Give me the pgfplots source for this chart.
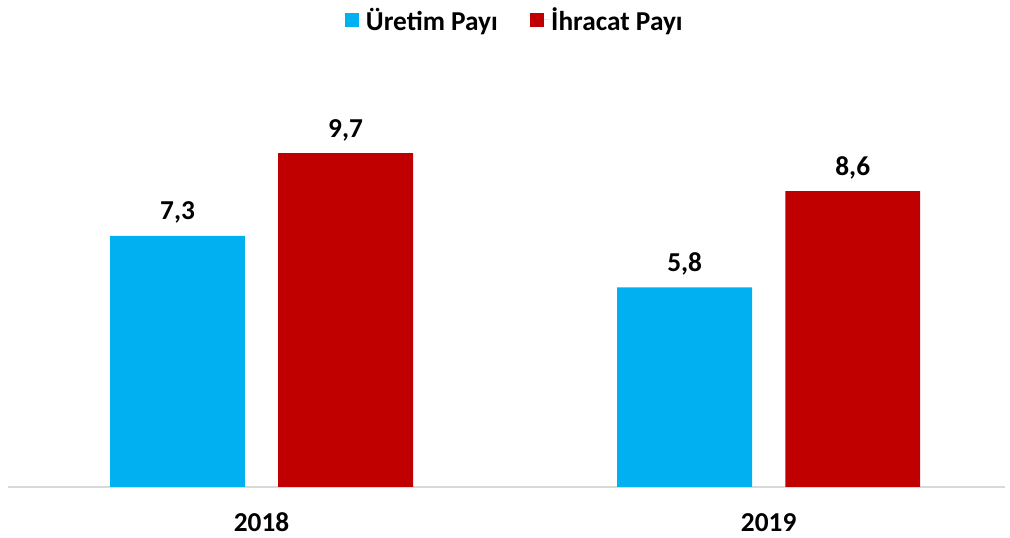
\documentclass[border=0pt]{standalone}
\usepackage{pgfplots}
\pgfplotsset{compat=1.18}
\usepackage{fontspec}
\setmainfont{Carlito}
\definecolor{cblue}{HTML}{00B0F0}
\definecolor{cred}{HTML}{C00000}
\definecolor{axgray}{HTML}{D9D9D9}
\newcommand{\chartfont}{\bfseries\fontsize{20.5}{24}\selectfont}
\begin{document}
\begin{tikzpicture}
\begin{axis}[
  scale only axis, width=747.75pt, height=320.25pt,
  xmin=-0.5, xmax=1.466, ymin=0, ymax=12.41,
  axis x line=bottom, axis y line=none,
  x axis line style={axgray, line width=1.3pt, -},
  xtick={0,1}, xticklabels={2018,2019}, major tick length=0pt, ytick=\empty,
  x tick label style={font=\chartfont, anchor=center, yshift=-26.5pt},
  ybar, bar width=0.266,
  clip=false,
  nodes near coords,
  /pgf/number format/.cd, use comma, fixed, fixed zerofill, precision=1, assume math mode=true,
  /pgfplots/.cd,
  every node near coord/.append style={font=\chartfont, text=black, anchor=base, yshift=12pt},
  legend columns=2,
  legend style={at={(rel axis cs:0.5085,1)}, anchor=center, yshift=30pt, draw=none, fill=none,
    font=\chartfont, /tikz/every even column/.append style={column sep=22pt}},
  legend image code/.code={\fill[#1] (0pt,-5.25pt) rectangle (10.5pt,5.25pt); \path (0pt,0pt) -- (14pt,0pt);},
]
\addplot[fill=cblue, draw=none, bar shift=-0.1657] coordinates {(0,7.3) (1,5.8)};
\addlegendentry{Üretim Payı}
\addplot[fill=cred, draw=none, bar shift=0.1657] coordinates {(0,9.7) (1,8.6)};
\addlegendentry{İhracat Payı}
\coordinate (bl) at (rel axis cs:0,0);
\end{axis}
\path ([shift={(-6pt,-38.25pt)}]bl) rectangle ++(757.5pt,403.5pt);
\end{tikzpicture}
\end{document}
